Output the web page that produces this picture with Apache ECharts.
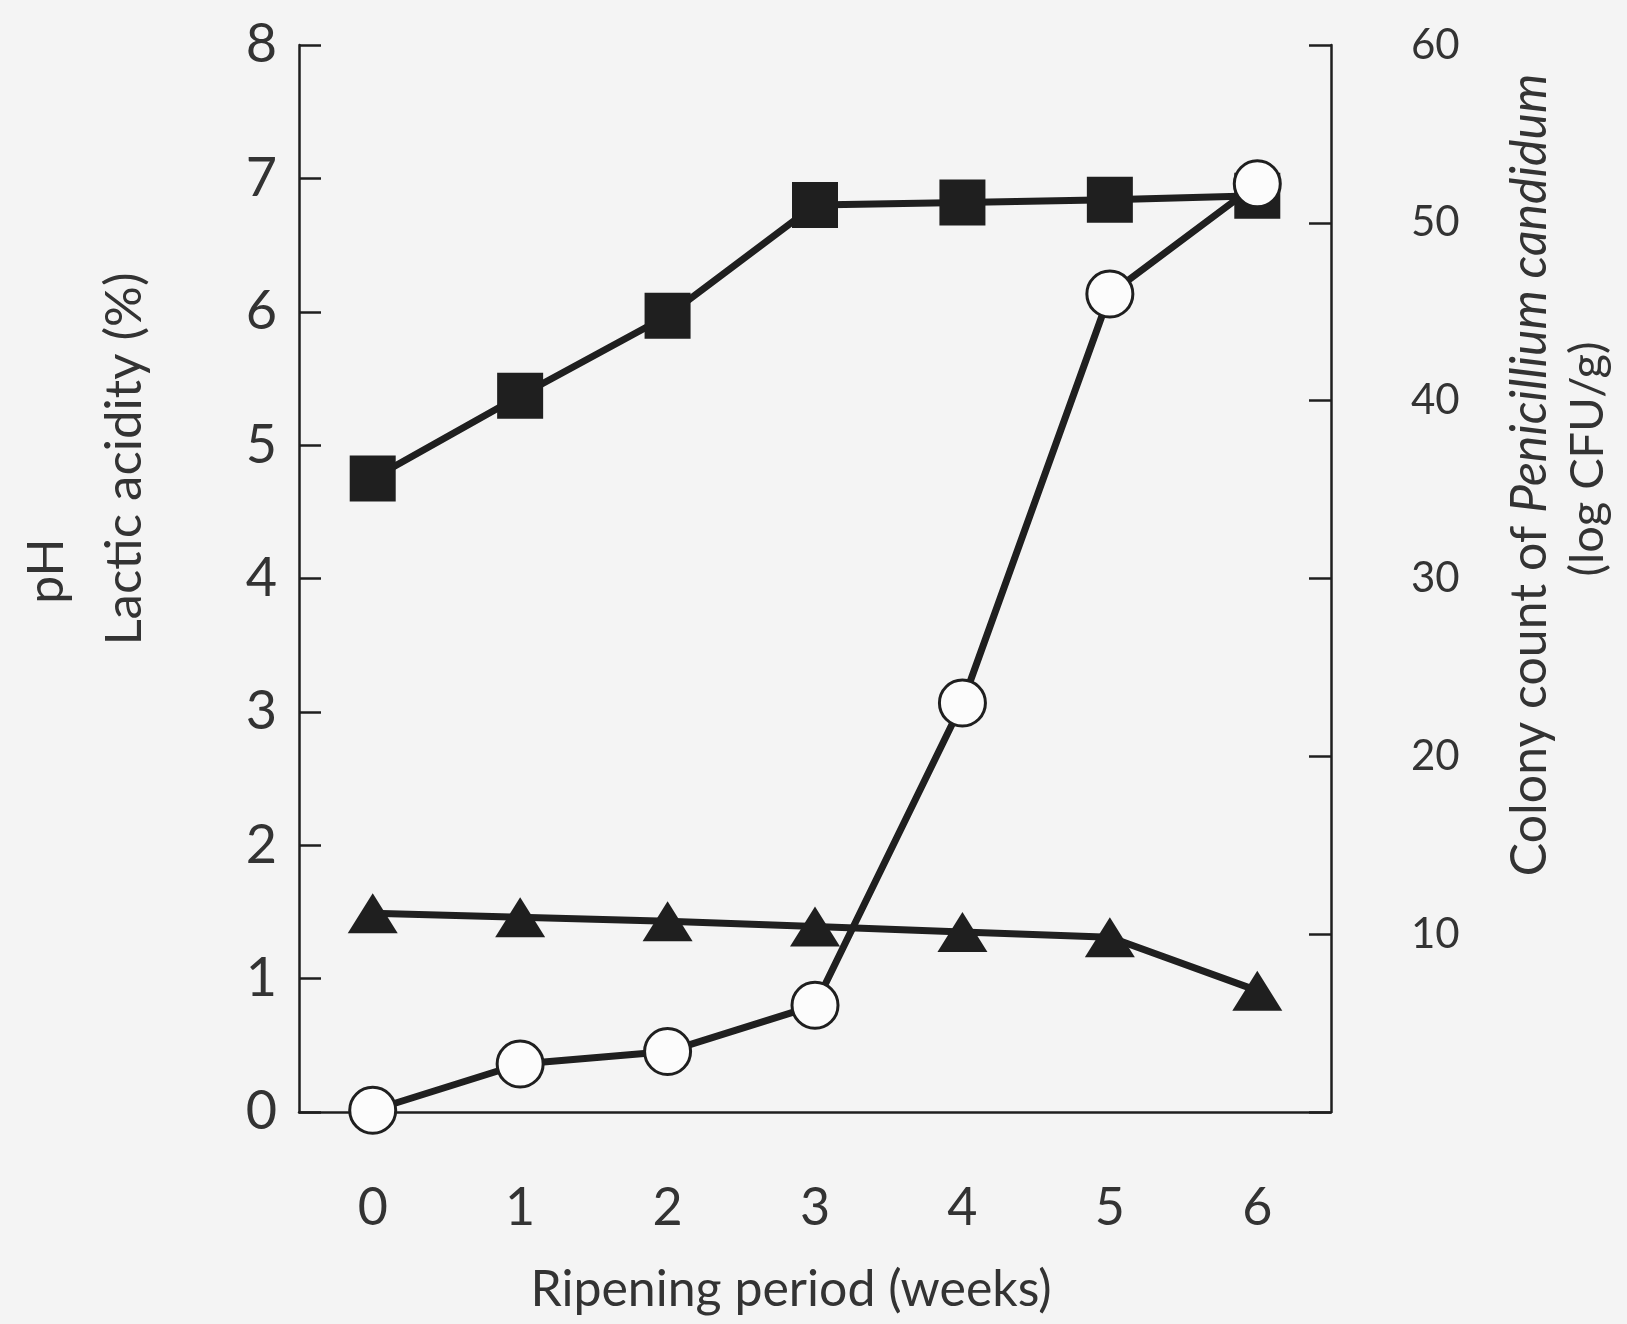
<!DOCTYPE html>
<html>
<head>
<meta charset="utf-8">
<script src="https://cdn.jsdelivr.net/npm/echarts@6/dist/echarts.min.js"></script>
<style>
html,body{margin:0;padding:0;background:#f4f4f4;}
#chart{width:1627px;height:1324px;}
</style>
</head>
<body>
<div id="chart"></div>
<script>
// Data
const weeks = ['0', '1', '2', '3', '4', '5', '6'];
const phValues = [4.75, 5.37, 5.97, 6.80, 6.82, 6.84, 6.87];          // filled squares
const lacticValues = [1.49, 1.46, 1.43, 1.39, 1.35, 1.31, 0.91];      // filled triangles
const colonyValues = [0.1, 2.7, 3.4, 6.0, 23.0, 46.0, 52.2];          // open circles (right axis)
const leftTicks = [0, 8, 1];
const rightTicks = [0, 60, 10];

const FONT = 'Lato, "Open Sans", sans-serif';
const TXT = '#333333';
const INK = '#1f1f1f';

const chart = echarts.init(document.getElementById('chart'));
chart.setOption({
  backgroundColor: '#f4f4f4',
  animation: false,
  grid: { left: 299, right: 296, top: 45, bottom: 212, containLabel: false },
  xAxis: {
    type: 'category',
    data: weeks,
    boundaryGap: true,
    axisLine: { lineStyle: { color: INK, width: 2.5 } },
    axisTick: { inside: true, length: 20, lineStyle: { color: INK, width: 2.5 } },
    axisLabel: { color: TXT, fontSize: 52, fontFamily: FONT, margin: 70 },
    splitLine: { show: false }
  },
  yAxis: [
    {
      type: 'value',
      min: leftTicks[0], max: leftTicks[1], interval: leftTicks[2],
      position: 'left',
      axisLine: { show: true, lineStyle: { color: INK, width: 2.5 } },
      axisTick: { show: true, inside: true, length: 22, lineStyle: { color: INK, width: 2.5 } },
      axisLabel: { color: TXT, fontSize: 54, fontFamily: FONT, margin: 22 },
      splitLine: { show: false }
    },
    {
      type: 'value',
      min: rightTicks[0], max: rightTicks[1], interval: rightTicks[2],
      position: 'right',
      axisLine: { show: true, lineStyle: { color: INK, width: 2.5 } },
      axisTick: { show: true, inside: true, length: 22, lineStyle: { color: INK, width: 2.5 } },
      axisLabel: {
        color: TXT, fontSize: 42, fontFamily: FONT, margin: 80,
        formatter: v => (v === 0 ? '' : String(v))
      },
      splitLine: { show: false }
    }
  ],
  series: [
    {
      name: 'pH',
      type: 'line',
      data: phValues,
      yAxisIndex: 0,
      symbol: 'rect',
      symbolSize: 46,
      showAllSymbol: true,
      lineStyle: { color: INK, width: 7 },
      itemStyle: { color: INK, borderWidth: 0 },
      z: 2
    },
    {
      name: 'Lactic acidity',
      type: 'line',
      data: lacticValues,
      yAxisIndex: 0,
      symbol: 'triangle',
      symbolSize: [50, 40],
      showAllSymbol: true,
      lineStyle: { color: INK, width: 7 },
      itemStyle: { color: INK, borderWidth: 0 },
      z: 2
    },
    {
      name: 'Colony count',
      type: 'line',
      data: colonyValues,
      yAxisIndex: 1,
      symbol: 'circle',
      symbolSize: 46,
      showAllSymbol: true,
      lineStyle: { color: INK, width: 7 },
      itemStyle: { color: '#fcfcfc', borderColor: INK, borderWidth: 3 },
      z: 3
    }
  ],
  graphic: [
    {
      type: 'text', x: 791, y: 1290,
      style: { text: 'Ripening period (weeks)', fill: TXT, font: '50px ' + FONT, textAlign: 'center', textVerticalAlign: 'middle' }
    },
    {
      type: 'text', x: 125, y: 459, rotation: Math.PI / 2,
      style: { text: 'Lactic acidity (%)', fill: TXT, font: '51px ' + FONT, textAlign: 'center', textVerticalAlign: 'middle' }
    },
    {
      type: 'text', x: 47, y: 571, rotation: Math.PI / 2,
      style: { text: 'pH', fill: TXT, font: '50px ' + FONT, textAlign: 'center', textVerticalAlign: 'middle' }
    },
    {
      type: 'text', x: 1530, y: 475, rotation: Math.PI / 2,
      style: {
        text: '{n|Colony count of }{i|Penicillium candidum}',
        textAlign: 'center', textVerticalAlign: 'middle',
        rich: {
          n: { fill: TXT, fontSize: 50, fontFamily: FONT },
          i: { fill: TXT, fontSize: 50, fontFamily: FONT, fontStyle: 'italic' }
        }
      }
    },
    {
      type: 'text', x: 1588, y: 459, rotation: Math.PI / 2,
      style: { text: '(log CFU/g)', fill: TXT, font: '47px ' + FONT, textAlign: 'center', textVerticalAlign: 'middle' }
    }
  ]
});
</script>
</body>
</html>
